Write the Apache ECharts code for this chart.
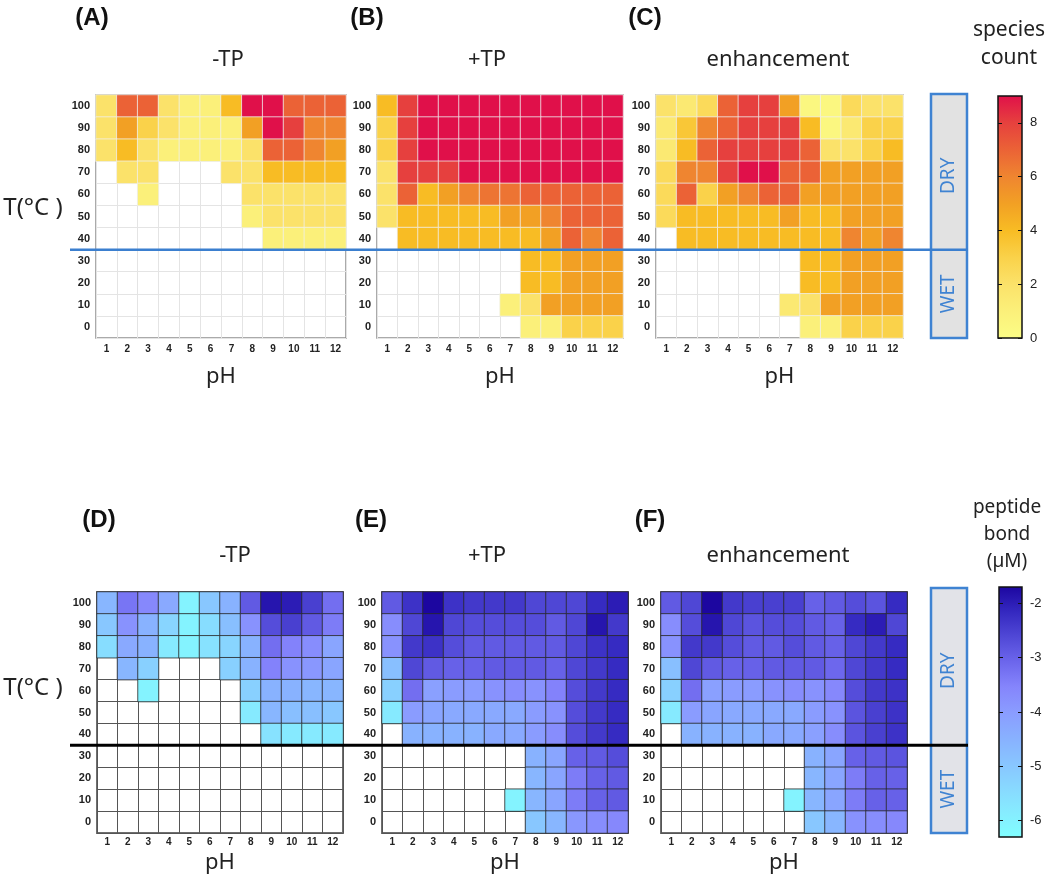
<!DOCTYPE html>
<html><head><meta charset="utf-8">
<script src="https://cdn.jsdelivr.net/npm/echarts@6/dist/echarts.min.js"></script>
<style>html,body{margin:0;padding:0;background:#fff}#c{width:1050px;height:878px}</style>
</head><body><div id="c"></div><script>
const _ = null;
// categories
const pHCats = ['1','2','3','4','5','6','7','8','9','10','11','12'];
const tempCats = ['0','10','20','30','40','50','60','70','80','90','100'];
// rows listed from T=100 (top) down to T=0 (bottom)
const speciesMinusTP = [
  [2,7,7,2,1,1,4,9,9,7,7,7],
  [2,5,3,2,1,1,1,5,9,8,6,6],
  [2,4,2,1,1,1,1,2,7,7,6,5],
  [_,2,2,_,_,_,2,2,4,4,4,4],
  [_,_,1,_,_,_,_,2,2,2,2,2],
  [_,_,_,_,_,_,_,1,2,2,2,2],
  [_,_,_,_,_,_,_,_,1,1,1,1],
  [_,_,_,_,_,_,_,_,_,_,_,_],
  [_,_,_,_,_,_,_,_,_,_,_,_],
  [_,_,_,_,_,_,_,_,_,_,_,_],
  [_,_,_,_,_,_,_,_,_,_,_,_]
];
const speciesPlusTP = [
  [4,8,9,9,9,9,9,9,9,9,9,9],
  [3,8,9,9,9,9,9,9,9,9,9,9],
  [3,8,9,9,9,9,9,9,9,9,9,9],
  [2,8,8,8,9,9,9,9,9,9,9,9],
  [2,7,4,5,6,6.5,6.5,7,7,7,7,7],
  [2,4,4,4,4,4,5,5,6,7,7,7],
  [_,4,4,4,4,4,4,4,5,7,6,7],
  [_,_,_,_,_,_,_,4,4,5,5,5],
  [_,_,_,_,_,_,_,4,4,5,5,5],
  [_,_,_,_,_,_,1,2,5,5,5,5],
  [_,_,_,_,_,_,_,1,1,3,3,3]
];
const speciesEnh = [
  [2,1.5,2.5,7,8,8,5,0.5,0.5,2.5,2,2],
  [1.5,3.5,6,7,8,8,8,4,0.5,1.5,3,3],
  [1.5,4,7,8,8,8,8,7,2,2,3,4],
  [2.5,6,6,8,9,9,7,7,5,5,5,5],
  [2.5,7,3,5,6,7,7,5,5,5,5,5],
  [2.5,4,4,4,4,4,5,4,4,5,5,5],
  [_,4,4,4,4,4,4,4,4,6,5,6],
  [_,_,_,_,_,_,_,4,4,5,5,5],
  [_,_,_,_,_,_,_,4,4,5,5,5],
  [_,_,_,_,_,_,1.5,2,5,5,5,5],
  [_,_,_,_,_,_,_,1,1,3,3,3]
];
const peptideMinusTP = [
  [-4.6,-3.3,-3.6,-4.3,-6.0,-5.0,-4.5,-2.9,-1.9,-2.0,-2.5,-3.2],
  [-5.0,-3.8,-4.5,-5.3,-6.0,-5.5,-4.8,-3.8,-2.7,-2.5,-2.9,-3.4],
  [-5.5,-4.3,-4.5,-5.8,-6.0,-5.6,-5.3,-4.5,-3.2,-3.5,-3.7,-4.2],
  [_,-4.6,-5.2,_,_,_,-5.2,-4.5,-3.5,-3.8,-3.9,-4.2],
  [_,_,-6.0,_,_,_,_,-5.2,-4.5,-4.5,-4.6,-4.6],
  [_,_,_,_,_,_,_,-5.8,-4.6,-4.8,-4.8,-5.0],
  [_,_,_,_,_,_,_,_,-5.6,-5.8,-5.8,-5.8],
  [_,_,_,_,_,_,_,_,_,_,_,_],
  [_,_,_,_,_,_,_,_,_,_,_,_],
  [_,_,_,_,_,_,_,_,_,_,_,_],
  [_,_,_,_,_,_,_,_,_,_,_,_]
];
const peptidePlusTP = [
  [-2.9,-2.3,-1.7,-2.3,-2.4,-2.4,-2.4,-2.6,-2.6,-2.6,-2.2,-2.0],
  [-3.7,-2.6,-1.9,-2.6,-2.7,-2.7,-2.7,-2.7,-2.9,-2.6,-1.9,-2.4],
  [-3.8,-2.4,-2.3,-2.7,-2.9,-2.9,-2.9,-2.9,-2.9,-2.6,-2.3,-2.2],
  [-4.8,-2.6,-2.9,-3.0,-3.0,-2.9,-2.9,-2.9,-3.0,-2.6,-2.4,-2.2],
  [-5.2,-3.2,-4.1,-4.0,-4.0,-3.8,-3.7,-3.8,-3.5,-2.7,-2.4,-2.2],
  [-5.8,-4.0,-4.2,-4.3,-4.3,-4.3,-4.3,-4.0,-3.8,-2.7,-2.4,-2.2],
  [_,-4.5,-4.5,-4.5,-4.5,-4.3,-4.3,-4.0,-3.7,-2.7,-2.4,-2.2],
  [_,_,_,_,_,_,_,-4.5,-4.2,-3.0,-2.9,-2.7],
  [_,_,_,_,_,_,_,-4.6,-4.2,-3.4,-3.0,-2.9],
  [_,_,_,_,_,_,-6.0,-4.6,-4.2,-3.4,-3.0,-2.9],
  [_,_,_,_,_,_,_,-5.0,-4.6,-3.9,-3.7,-3.6]
];
const peptideEnh = [
  [-2.9,-2.6,-1.7,-2.4,-2.5,-2.5,-2.5,-3.0,-2.9,-2.7,-2.8,-2.2],
  [-3.7,-2.7,-1.9,-2.6,-2.8,-2.7,-2.7,-2.9,-3.0,-2.2,-2.0,-2.6],
  [-3.8,-2.4,-2.4,-2.7,-2.9,-2.9,-2.7,-2.9,-3.0,-2.6,-2.4,-2.2],
  [-4.8,-2.6,-2.9,-3.0,-3.0,-2.9,-2.9,-2.9,-3.1,-2.6,-2.4,-2.2],
  [-5.2,-3.2,-4.1,-4.0,-4.0,-3.8,-3.7,-3.8,-3.6,-2.7,-2.4,-2.3],
  [-5.8,-4.0,-4.2,-4.3,-4.3,-4.3,-4.3,-4.0,-3.8,-2.8,-2.5,-2.3],
  [_,-4.5,-4.5,-4.5,-4.5,-4.3,-4.3,-4.1,-3.7,-2.8,-2.5,-2.3],
  [_,_,_,_,_,_,_,-4.5,-4.2,-3.0,-2.9,-2.8],
  [_,_,_,_,_,_,_,-4.6,-4.2,-3.4,-3.0,-3.0],
  [_,_,_,_,_,_,-6.0,-4.6,-4.2,-3.4,-3.0,-3.0],
  [_,_,_,_,_,_,_,-5.0,-4.6,-3.8,-3.7,-3.6]
];
// colour scales and colourbar ticks
const speciesRange = [0, 9];
const speciesColors = ['#fbfd86','#fbf07a','#fbe26a','#fad24a','#f8bc24','#f2a024','#ef8530','#eb6236','#e6403e','#e0104a'];
const speciesTicks = [0,2,4,6,8];
const peptideRange = [-6.3, -1.7];
const peptideColors = ['#80ffff','#86ecff','#88d8ff','#88c4ff','#88b0ff','#8a9cff','#8585fc','#6c66ec','#5048d6','#3428c0','#1c06a0'];
const peptideTicks = [-6,-5,-4,-3,-2];

const panelLetters = ['(A)','(B)','(C)','(D)','(E)','(F)'];
const panelTitles = ['-TP','+TP','enhancement','-TP','+TP','enhancement'];

function toCells(rows){
  const out = [];
  rows.forEach((r, ri) => r.forEach((v, ci) => { if (v !== null) out.push([ci, tempCats.length - 1 - ri, v]); }));
  return out;
}

const panels = [
  {rows: speciesMinusTP, left: 96, top: 95, width: 250, height: 243, top_row: true},
  {rows: speciesPlusTP, left: 377, top: 95, width: 246, height: 243, top_row: true},
  {rows: speciesEnh, left: 656, top: 95, width: 247, height: 243, top_row: true},
  {rows: peptideMinusTP, left: 97, top: 592, width: 246, height: 241, top_row: false},
  {rows: peptidePlusTP, left: 382, top: 592, width: 246, height: 241, top_row: false},
  {rows: peptideEnh, left: 661, top: 592, width: 246, height: 241, top_row: false}
];

const lblFont = {fontFamily: 'Liberation Sans', fontWeight: 'bold', fontSize: 11, color: '#222'};
const grids = [], xAxes = [], yAxes = [], series = [];
panels.forEach((p, i) => {
  const light = p.top_row;
  grids.push({left: p.left, top: p.top, width: p.width, height: p.height, show: true,
    borderColor: light ? '#8e8e8e' : '#6e6e6e', borderWidth: light ? 1.5 : 2, backgroundColor: '#fff'});
  xAxes.push({type: 'category', gridIndex: i, data: pHCats,
    axisLine: {show: false}, axisTick: {show: false},
    axisLabel: Object.assign({interval: 0, margin: light ? 6 : 4}, lblFont, {fontSize: 10}),
    splitLine: {show: true, interval: 0, lineStyle: {color: light ? '#e4e4e4' : '#555', width: 1}},
    name: 'pH', nameLocation: 'middle', nameGap: light ? 28 : 19,
    nameTextStyle: {fontFamily: 'Noto Sans', fontSize: 22, color: '#222'}});
  yAxes.push({type: 'category', gridIndex: i, data: tempCats,
    axisLine: {show: false}, axisTick: {show: false},
    axisLabel: Object.assign({interval: 0, margin: 6}, lblFont),
    splitLine: {show: true, interval: 0, lineStyle: {color: light ? '#e4e4e4' : '#555', width: 1}}});
  series.push({type: 'heatmap', xAxisIndex: i, yAxisIndex: i, data: toCells(p.rows),
    itemStyle: {borderColor: light ? 'rgba(240,240,240,0.75)' : 'rgba(40,40,40,0.8)', borderWidth: 1},
    emphasis: {disabled: true}, progressive: 0, animation: false});
});

function gradient(colors){
  return {type: 'linear', x: 0, y: 1, x2: 0, y2: 0,
    colorStops: colors.map((c, k) => ({offset: k / (colors.length - 1), color: c}))};
}
// colourbars
const bars = [
  {left: 998, top: 96, width: 24, height: 242, range: speciesRange, colors: speciesColors, ticks: speciesTicks},
  {left: 999, top: 587, width: 23, height: 250, range: peptideRange, colors: peptideColors, ticks: peptideTicks}
];
bars.forEach((b) => {
  const gi = grids.length;
  grids.push({left: b.left, top: b.top, width: b.width, height: b.height, show: true,
    backgroundColor: gradient(b.colors), borderColor: '#111', borderWidth: 1.5});
  xAxes.push({type: 'category', gridIndex: gi, data: [''], show: false});
  yAxes.push({type: 'value', gridIndex: gi, min: b.range[0], max: b.range[1], position: 'right',
    axisLine: {show: false}, splitLine: {show: false},
    axisTick: {show: true, inside: true, length: 4, customValues: b.ticks, lineStyle: {color: '#111'}},
    axisLabel: {customValues: b.ticks, margin: 8, fontFamily: 'Liberation Sans', fontSize: 13, color: '#222'}});
  yAxes.push({type: 'value', gridIndex: gi, min: b.range[0], max: b.range[1], position: 'left',
    axisLine: {show: false}, splitLine: {show: false},
    axisTick: {show: true, inside: true, length: 4, customValues: b.ticks, lineStyle: {color: '#111'}},
    axisLabel: {show: false}});
});

const graphic = [];
const titleFont = 'Noto Sans';
const letterX = [92, 367, 645, 99, 371, 650];
const letterY = [18, 18, 18, 520, 520, 520];
const titleX = [228, 487, 778, 235, 487, 778];
const titleY = [60, 60, 60, 556, 556, 556];
for (let i = 0; i < 6; i++) {
  graphic.push({type: 'text', x: letterX[i], y: letterY[i], style: {text: panelLetters[i], align: 'center', verticalAlign: 'middle',
    font: 'bold 24px "Liberation Sans"', fill: '#111'}});
  graphic.push({type: 'text', x: titleX[i], y: titleY[i], style: {text: panelTitles[i], align: 'center', verticalAlign: 'middle',
    font: '22px "' + titleFont + '"', fill: '#222'}});
}
// T axis labels
[208, 688].forEach(y => graphic.push({type: 'text', x: 33, y: y, style: {text: 'T(°C )', align: 'center', verticalAlign: 'middle',
  font: '24px "Noto Sans"', fill: '#222'}}));
// colourbar titles
[['species', 30], ['count', 58]].forEach(t => graphic.push({type: 'text', x: 1009, y: t[1], style: {text: t[0], align: 'center', verticalAlign: 'middle', font: '21px "Noto Sans"', fill: '#222'}}));
[['peptide', 508], ['bond', 535], ['(µM)', 562]].forEach(t => graphic.push({type: 'text', x: 1007, y: t[1], style: {text: t[0], align: 'center', verticalAlign: 'middle', font: '19px "Noto Sans"', fill: '#222'}}));
// DRY / WET boxes and dividing lines
const dividers = [
  {p: panels[0], color: '#3b7fcf', width: 2.5, boxTop: 94, boxBottom: 338, fill: '#e2e2e2'},
  {p: panels[3], color: '#000', width: 3, boxTop: 588, boxBottom: 833, fill: '#e2e3e8'}
];
dividers.forEach(d => {
  const yLine = d.p.top + 7 * d.p.height / tempCats.length;
  graphic.push({type: 'rect', z: 50, shape: {x: 931, y: d.boxTop, width: 36, height: d.boxBottom - d.boxTop},
    style: {fill: d.fill, stroke: '#3f83d2', lineWidth: 2.5}});
  graphic.push({type: 'text', z: 51, x: 949, y: (d.boxTop + yLine) / 2 + 4, rotation: Math.PI / 2,
    style: {text: 'DRY', align: 'center', verticalAlign: 'middle', font: '19px "Noto Sans"', fill: '#3f83d2'}});
  graphic.push({type: 'text', z: 51, x: 949, y: (yLine + d.boxBottom) / 2, rotation: Math.PI / 2,
    style: {text: 'WET', align: 'center', verticalAlign: 'middle', font: '19px "Noto Sans"', fill: '#3f83d2'}});
  graphic.push({type: 'line', z: 60, shape: {x1: 70, y1: yLine, x2: 968, y2: yLine},
    style: {stroke: d.color, lineWidth: d.width}});
});

const chart = echarts.init(document.getElementById('c'), null, {renderer: 'canvas'});
chart.setOption({
  animation: false,
  backgroundColor: '#fff',
  grid: grids, xAxis: xAxes, yAxis: yAxes, series: series,
  visualMap: [
    {type: 'continuous', show: false, min: speciesRange[0], max: speciesRange[1], seriesIndex: [0,1,2], inRange: {color: speciesColors}},
    {type: 'continuous', show: false, min: peptideRange[0], max: peptideRange[1], seriesIndex: [3,4,5], inRange: {color: peptideColors}}
  ],
  graphic: graphic
});
</script></body></html>
